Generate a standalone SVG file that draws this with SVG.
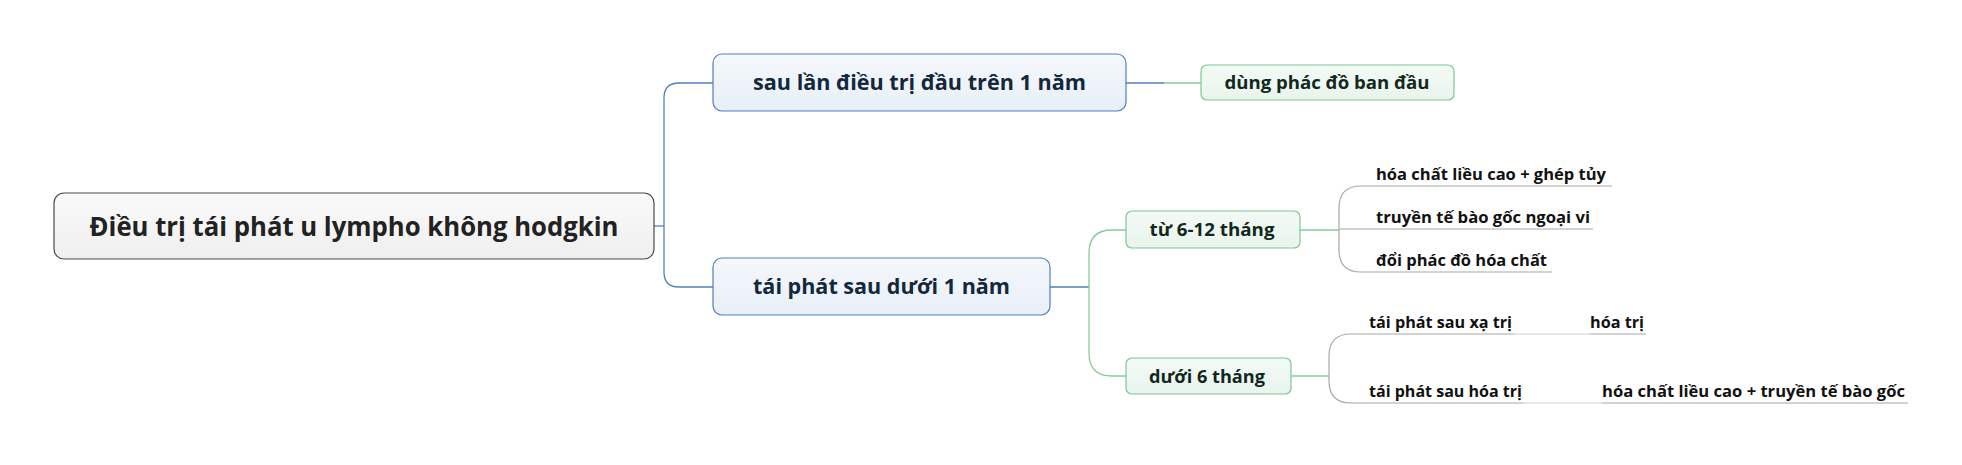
<svg xmlns="http://www.w3.org/2000/svg" width="1962" height="465" viewBox="0 0 1962 465">
<defs>
<linearGradient id="gRoot" x1="0" y1="0" x2="0" y2="1"><stop offset="0" stop-color="#fafafa"/><stop offset="1" stop-color="#efefef"/></linearGradient>
<linearGradient id="gBlue" x1="0" y1="0" x2="0" y2="1"><stop offset="0" stop-color="#f5f8fc"/><stop offset="1" stop-color="#e8eff8"/></linearGradient>
<linearGradient id="gGreen" x1="0" y1="0" x2="0" y2="1"><stop offset="0" stop-color="#f3faf5"/><stop offset="1" stop-color="#e9f4ed"/></linearGradient>
</defs>
<style>
text{font-family:"Open Sans","Noto Sans","DejaVu Sans",sans-serif;font-weight:bold}
.root rect{fill:url(#gRoot);stroke:#4a4a4a;stroke-width:1.2}
.root text{font-size:27px;fill:#222;text-anchor:middle}
.l1 rect{fill:url(#gBlue);stroke:#4f7fbf;stroke-width:1.2}
.l1 text{font-size:21px;fill:#13283a;text-anchor:middle}
.l2 rect{fill:url(#gGreen);stroke:#7fc693;stroke-width:1.2}
.l2 text{font-size:18px;fill:#13281c;text-anchor:middle}
.leaf text{font-size:16px;fill:#111}
.cb{fill:none;stroke:#4f81bd;stroke-width:1.3}
.cg{fill:none;stroke:#86cc9a;stroke-width:1.3}
.cx{fill:none;stroke:#a8a8a8;stroke-width:1.2}
.cl{fill:none;stroke:#d0d0d0;stroke-width:1.2}
</style>
<g id="connectors">
<path class="cb" d="M654,226 H664"/>
<path class="cb" d="M713,83 H679 Q664,83 664,98 V272 Q664,287 679,287 H713"/>
<path class="cb" d="M1126,83 H1164"/>
<path class="cg" d="M1164,83 H1201"/>
<path class="cb" d="M1050,287 H1089"/>
<path class="cg" d="M1126,230 H1112 Q1089,230 1089,253 V353 Q1089,376 1112,376 H1126"/>
<path class="cg" d="M1300,230 H1339"/>
<path class="cx" d="M1612,186 H1361 Q1339,186 1339,208 V250 Q1339,272 1361,272 H1552"/>
<path class="cx" d="M1339,229 H1593"/>
<path class="cg" d="M1291,376 H1329"/>
<path class="cx" d="M1514,334 H1351 Q1329,334 1329,356 V381 Q1329,403 1351,403 H1523"/>
<path class="cl" d="M1514,334 H1590"/>
<path class="cx" d="M1590,334 H1646"/>
<path class="cl" d="M1523,403 H1602"/>
<path class="cx" d="M1602,403 H1908"/>
</g>
<g id="root" class="root"><rect x="54" y="193" width="600" height="66" rx="10"/><text x="354" y="236" textLength="529" lengthAdjust="spacingAndGlyphs">Điều trị tái phát u lympho không hodgkin</text></g>
<g id="n1" class="l1"><rect x="713" y="54" width="413" height="57" rx="9"/><text x="919.5" y="90" textLength="333" lengthAdjust="spacingAndGlyphs">sau lần điều trị đầu trên 1 năm</text></g>
<g id="n2" class="l1"><rect x="713" y="258" width="337" height="57" rx="9"/><text x="881.5" y="294" textLength="257" lengthAdjust="spacingAndGlyphs">tái phát sau dưới 1 năm</text></g>
<g id="n1a" class="l2"><rect x="1201" y="65" width="253" height="35" rx="6"/><text x="1327" y="89" textLength="205" lengthAdjust="spacingAndGlyphs">dùng phác đồ ban đầu</text></g>
<g id="n2a" class="l2"><rect x="1126" y="211" width="174" height="37" rx="6"/><text x="1212" y="236" textLength="125" lengthAdjust="spacingAndGlyphs">từ 6-12 tháng</text></g>
<g id="n2b" class="l2"><rect x="1126" y="358" width="165" height="36" rx="6"/><text x="1207" y="383" textLength="116" lengthAdjust="spacingAndGlyphs">dưới 6 tháng</text></g>
<g id="leaf1" class="leaf"><text x="1376" y="180" textLength="230" lengthAdjust="spacingAndGlyphs">hóa chất liều cao + ghép tủy</text></g>
<g id="leaf2" class="leaf"><text x="1376" y="223" textLength="214" lengthAdjust="spacingAndGlyphs">truyền tế bào gốc ngoại vi</text></g>
<g id="leaf3" class="leaf"><text x="1376" y="266" textLength="171" lengthAdjust="spacingAndGlyphs">đổi phác đồ hóa chất</text></g>
<g id="leaf4" class="leaf"><text x="1369" y="328" textLength="143" lengthAdjust="spacingAndGlyphs">tái phát sau xạ trị</text></g>
<g id="leaf4a" class="leaf"><text x="1590" y="328" textLength="54" lengthAdjust="spacingAndGlyphs">hóa trị</text></g>
<g id="leaf5" class="leaf"><text x="1369" y="397" textLength="153" lengthAdjust="spacingAndGlyphs">tái phát sau hóa trị</text></g>
<g id="leaf5a" class="leaf"><text x="1602" y="397" textLength="303" lengthAdjust="spacingAndGlyphs">hóa chất liều cao + truyền tế bào gốc</text></g>
</svg>
